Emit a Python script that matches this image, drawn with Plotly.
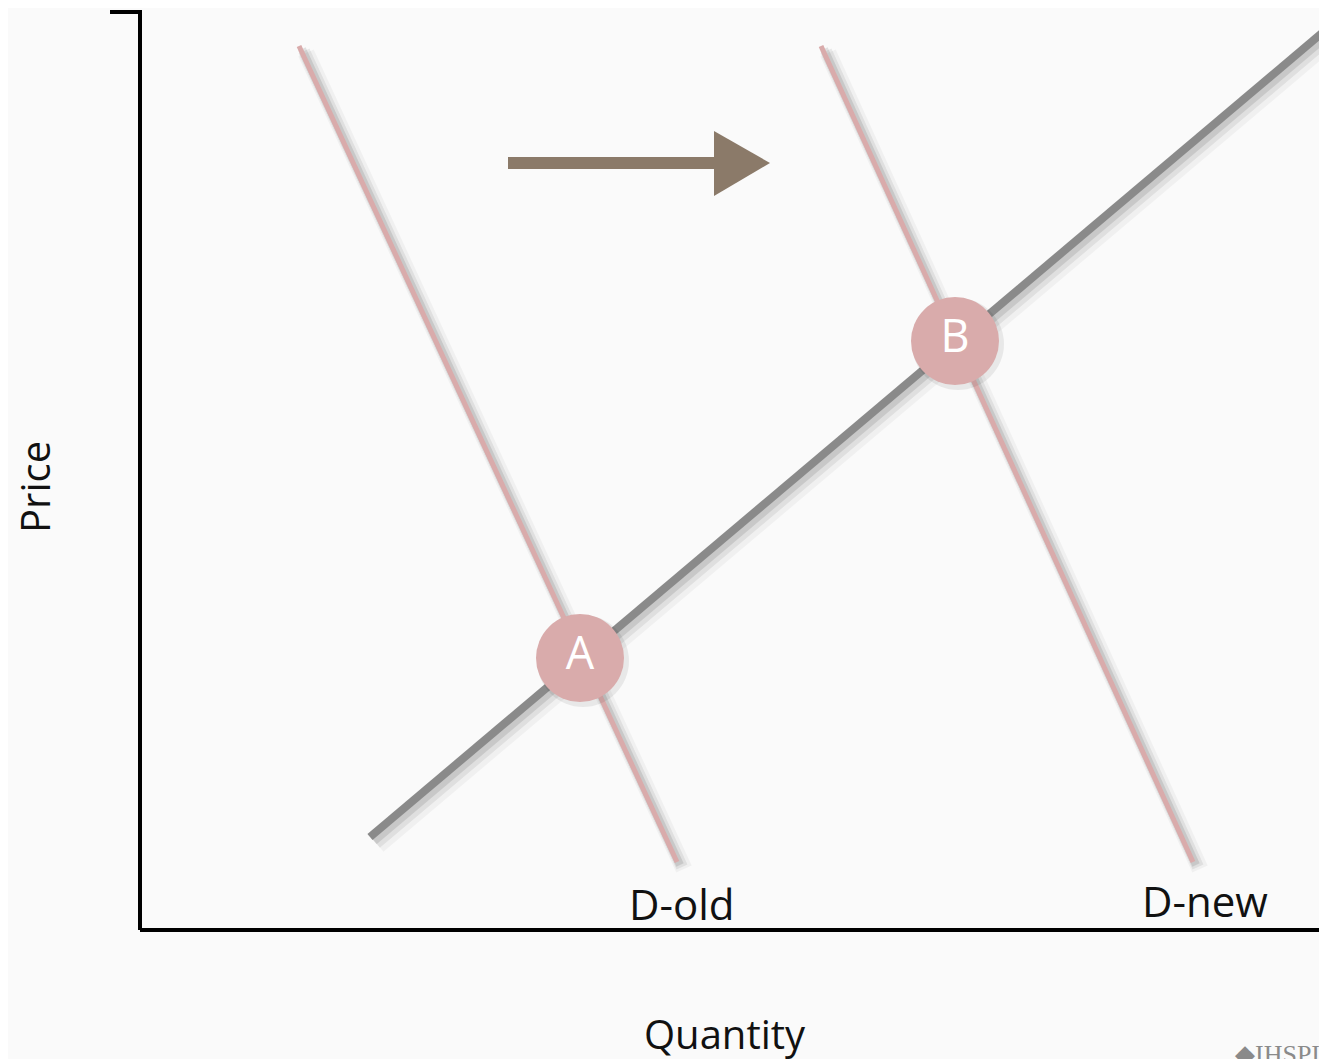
import plotly.graph_objects as go

# Data in chart units (quantity, price); origin at the axes corner
d_old_q = [159, 537]
d_old_p = [884, 68]
d_new_q = [681, 1053]
d_new_p = [884, 68]
supply_q = [230, 1182]
supply_p = [93, 897]
eq_labels = ["A", "B"]
eq_q = [440, 815]
eq_p = [272, 589]
shift_shaft_q = [368, 576]
shift_shaft_p = [767, 767]
shift_head_q = [574, 630, 574, 574]
shift_head_p = [799, 767, 734, 799]
axis_y_q = [-30, 0, 0]
axis_y_p = [918, 918, 0]
axis_x_q = [0, 1200]
axis_x_p = [0, 0]

BG = "#fafafa"
PINK = "#d9abab"
GRAY = "#8a8a8a"
BROWN = "#8b7a69"
FONT = "Open Sans"

fig = go.Figure()

def shadow(q, p, w):
    for off, a, extra in [(7, 0.04, 12), (5, 0.07, 7), (3, 0.10, 3)]:
        fig.add_trace(go.Scatter(x=[v + off for v in q], y=[v - off for v in p], mode="lines",
                                 line=dict(color=f"rgba(0,0,0,{a})", width=w + extra),
                                 hoverinfo="skip", showlegend=False))

shadow(d_old_q, d_old_p, 5)
shadow(d_new_q, d_new_p, 5)
shadow(supply_q, supply_p, 8)

fig.add_trace(go.Scatter(x=d_old_q, y=d_old_p, mode="lines", line=dict(color=PINK, width=5),
                         showlegend=False))
fig.add_trace(go.Scatter(x=d_new_q, y=d_new_p, mode="lines", line=dict(color=PINK, width=5),
                         showlegend=False))
fig.add_trace(go.Scatter(x=supply_q, y=supply_p, mode="lines", line=dict(color=GRAY, width=8),
                         showlegend=False))

# equilibrium circles
fig.add_trace(go.Scatter(x=[q + 3 for q in eq_q], y=[p - 3 for p in eq_p], mode="markers",
                         marker=dict(size=92, color="rgba(0,0,0,0.07)", line=dict(width=0)),
                         hoverinfo="skip", showlegend=False))
fig.add_trace(go.Scatter(x=eq_q, y=eq_p, mode="markers+text", text=eq_labels,
                         textposition="middle center",
                         textfont=dict(family=FONT, size=45, color="white"),
                         marker=dict(size=88, color=PINK, line=dict(width=0)),
                         showlegend=False))

# shift arrow
fig.add_trace(go.Scatter(x=shift_shaft_q, y=shift_shaft_p, mode="lines",
                         line=dict(color=BROWN, width=12), showlegend=False))
fig.add_trace(go.Scatter(x=shift_head_q, y=shift_head_p, mode="lines", fill="toself",
                         fillcolor=BROWN, line=dict(color=BROWN, width=0), showlegend=False))

# axes
fig.add_trace(go.Scatter(x=axis_y_q, y=axis_y_p, mode="lines",
                         line=dict(color="black", width=4), showlegend=False))
fig.add_trace(go.Scatter(x=axis_x_q, y=axis_x_p, mode="lines",
                         line=dict(color="black", width=4), showlegend=False))

ann = [
    dict(x=542, y=27, text="D-old", size=42),
    dict(x=1065, y=30, text="D-new", size=42),
    dict(x=585, y=-103, text="Quantity", size=40),
]
for a in ann:
    fig.add_annotation(x=a["x"], y=a["y"], text=a["text"], showarrow=False, xref="x", yref="y",
                       font=dict(family=FONT, size=a["size"], color="#111111"),
                       xanchor="center", yanchor="middle")
fig.add_annotation(x=-106, y=443, text="Price", showarrow=False, textangle=-90,
                   font=dict(family=FONT, size=40, color="#111111"),
                   xanchor="center", yanchor="middle")
fig.add_annotation(x=1093, y=-108, text="◆IHSPI", showarrow=False,
                   font=dict(family="Liberation Serif", size=26, color="#8a8a8a"),
                   xanchor="left", yanchor="top")

fig.update_layout(
    width=1327, height=1059,
    margin=dict(l=0, r=0, t=0, b=0),
    paper_bgcolor=BG, plot_bgcolor=BG,
    xaxis=dict(range=[-132, 1195], visible=False, fixedrange=True),
    yaxis=dict(range=[-137, 922], visible=False, fixedrange=True),
    showlegend=False,
)

fig.write_html("out.html")
